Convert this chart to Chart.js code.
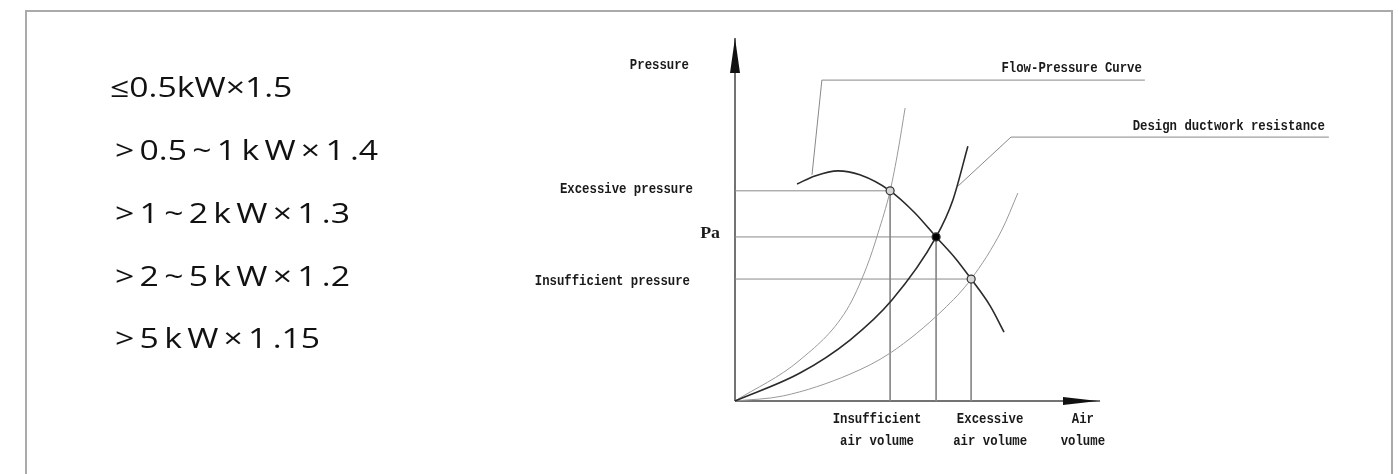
<!DOCTYPE html>
<html>
<head>
<meta charset="utf-8">
<script src="https://cdn.jsdelivr.net/npm/chart.js@4.4.1/dist/chart.umd.min.js"></script>
<style>
  html, body { margin: 0; padding: 0; background: #fff; }
  #wrap { position: relative; width: 1398px; height: 474px; overflow: hidden; }
  #frame { position: absolute; left: 25px; top: 10px; width: 1364px; height: 500px;
           border: 2px solid #aaa; border-bottom: none; }
  #myChart { position: absolute; left: 0; top: 0; }
</style>
</head>
<body>
<div id="wrap">
  <div id="frame"></div>
  <canvas id="myChart" width="1398" height="474"></canvas>
</div>
<script>
// motor power allowance factors (left list)
const powerRules = ['≤0.5kW×1.5', '> 0.5 ~ 1 k W × 1 .4', '> 1 ~ 2 k W × 1 .3', '> 2 ~ 5 k W × 1 .2', '> 5 k W × 1 .15'];

// fan flow-pressure curve (air volume, pressure), arbitrary units 0..100
const fanX = [17.0, 21.9, 28.2, 34.2, 42.5, 49.3, 55.1, 60.3, 64.7, 69.9, 73.7];
const fanY = [59.8, 62.0, 63.4, 62.3, 57.9, 51.8, 45.2, 39.4, 33.6, 26.2, 19.0];

// ductwork resistance curves
const steepX = [0, 17.8, 30.6, 36.1, 39.2, 42.5, 44.7, 46.6];
const steepY = [0, 11.3, 25.1, 37.0, 46.3, 57.9, 69.1, 80.7];
const designX = [0, 17.8, 31.5, 43.0, 55.1, 59.7, 63.8];
const designY = [0, 7.7, 16.8, 27.8, 45.2, 55.4, 70.2];
const shallowX = [0, 13.2, 31.5, 42.5, 57.0, 64.7, 73.1, 77.5];
const shallowY = [0, 1.4, 7.4, 13.2, 25.1, 33.6, 47.1, 57.3];

// operating points: excessive, design (Pa), insufficient
const pointVolume = [42.5, 55.1, 64.7];
const pointPressure = [57.9, 45.2, 33.6];

// leader lines to the curve names
const flowLeaderX = [21.1, 23.8, 112.3];
const flowLeaderY = [62.3, 88.4, 88.4];
const ductLeaderX = [61.1, 75.6, 162.7];
const ductLeaderY = [59.2, 72.7, 72.7];

const axisMax = 100;

const toPts = (xs, ys) => xs.map((x, i) => ({x: x, y: ys[i]}));

const lineSet = (data, color, width, smooth) => ({
    data: data,
    showLine: true,
    borderColor: color,
    borderWidth: width,
    pointRadius: 0,
    fill: false,
    clip: false,
    cubicInterpolationMode: smooth ? 'monotone' : 'default',
    tension: 0
});

const datasets = [];

// markers on top
datasets.push({
    data: toPts(pointVolume, pointPressure),
    showLine: false,
    pointRadius: 4,
    pointBorderWidth: 1.2,
    pointBorderColor: '#333',
    pointBackgroundColor: ['#d8d8d8', '#000', '#d8d8d8'],
    clip: false
});

datasets.push(lineSet(toPts(fanX, fanY), '#2a2a2a', 1.6, true));
datasets.push(lineSet(toPts(designX, designY), '#2a2a2a', 1.6, true));
datasets.push(lineSet(toPts(steepX, steepY), '#999', 1, true));
datasets.push(lineSet(toPts(shallowX, shallowY), '#999', 1, true));

pointVolume.forEach((v, i) => {
    datasets.push(lineSet([{x: 0, y: pointPressure[i]}, {x: v, y: pointPressure[i]}], '#8a8a8a', 1, false));
    datasets.push(lineSet([{x: v, y: pointPressure[i]}, {x: v, y: 0}], '#8a8a8a', 1, false));
});

datasets.push(lineSet(toPts(flowLeaderX, flowLeaderY), '#888', 1, false));
datasets.push(lineSet(toPts(ductLeaderX, ductLeaderY), '#888', 1, false));

// axes
datasets.push(lineSet([{x: 0, y: 0}, {x: 0, y: axisMax}], '#444', 1.5, false));
datasets.push(lineSet([{x: 0, y: 0}, {x: axisMax, y: 0}], '#444', 1.5, false));

// text squeezed or stretched horizontally
function txt(c, s, x, y, align, sx) {
    c.save();
    c.translate(x, y);
    c.scale(sx, 1);
    c.textAlign = align;
    c.fillText(s, 0, 0);
    c.restore();
}

const labelsPlugin = {
    id: 'labels',
    afterDatasetsDraw(chart) {
        const c = chart.ctx;
        const xs = chart.scales.x, ys = chart.scales.y;
        const X = v => xs.getPixelForValue(v), Y = v => ys.getPixelForValue(v);
        c.save();

        // arrow heads
        c.fillStyle = '#111';
        c.beginPath();
        c.moveTo(X(0), Y(axisMax));
        c.lineTo(X(0) - 5, Y(axisMax) + 35);
        c.lineTo(X(0) + 5, Y(axisMax) + 35);
        c.closePath();
        c.fill();
        c.beginPath();
        c.moveTo(X(axisMax) - 2, Y(0));
        c.lineTo(X(axisMax) - 37, Y(0) - 4);
        c.lineTo(X(axisMax) - 37, Y(0) + 4);
        c.closePath();
        c.fill();

        // chart texts
        c.fillStyle = '#1a1a1a';
        c.font = "bold 14px 'Liberation Mono'";
        c.textBaseline = 'middle';
        const sq = 0.88;
        txt(c, 'Pressure', X(0) - 46, Y(axisMax) + 27, 'right', sq);
        txt(c, 'Excessive pressure', X(0) - 42, Y(pointPressure[0]) - 1, 'right', sq);
        txt(c, 'Insufficient pressure', X(0) - 45, Y(pointPressure[2]) + 2, 'right', sq);
        txt(c, 'Flow-Pressure Curve', X(flowLeaderX[2]) - 3, Y(flowLeaderY[2]) - 12, 'right', sq);
        txt(c, 'Design ductwork resistance', X(ductLeaderX[2]) - 4, Y(ductLeaderY[2]) - 11, 'right', sq);
        const bottom = [['Insufficient', 'air volume', 38.9], ['Excessive', 'air volume', 69.9], ['Air', 'volume', 95.3]];
        bottom.forEach(b => {
            txt(c, b[0], X(b[2]), Y(0) + 18, 'center', sq);
            txt(c, b[1], X(b[2]), Y(0) + 40, 'center', sq);
        });
        c.font = "bold 17px 'Liberation Serif'";
        txt(c, 'Pa', X(0) - 15, Y(pointPressure[1]) - 3, 'right', 1.05);

        // left list
        c.fillStyle = '#111';
        c.font = "27px 'Open Sans'";
        c.textBaseline = 'alphabetic';
        c.wordSpacing = '-2.8px';
        const baselines = [97, 160, 223, 286, 348];
        powerRules.forEach((t, i) => txt(c, t, i === 0 ? 110 : 115, baselines[i], 'left', 1.25));
        c.restore();
    }
};

const ctx = document.getElementById('myChart').getContext('2d');

const myChart = new Chart(ctx, {
    type: 'scatter',
    data: {datasets: datasets},
    options: {
        responsive: false,
        maintainAspectRatio: false,
        animation: false,
        layout: {padding: {left: 735, right: 298, top: 38, bottom: 73}},
        scales: {
            x: {type: 'linear', min: 0, max: axisMax, display: false},
            y: {type: 'linear', min: 0, max: axisMax, display: false}
        },
        plugins: {
            legend: {display: false},
            tooltip: {enabled: false}
        }
    },
    plugins: [labelsPlugin]
});
</script>
</body>
</html>
